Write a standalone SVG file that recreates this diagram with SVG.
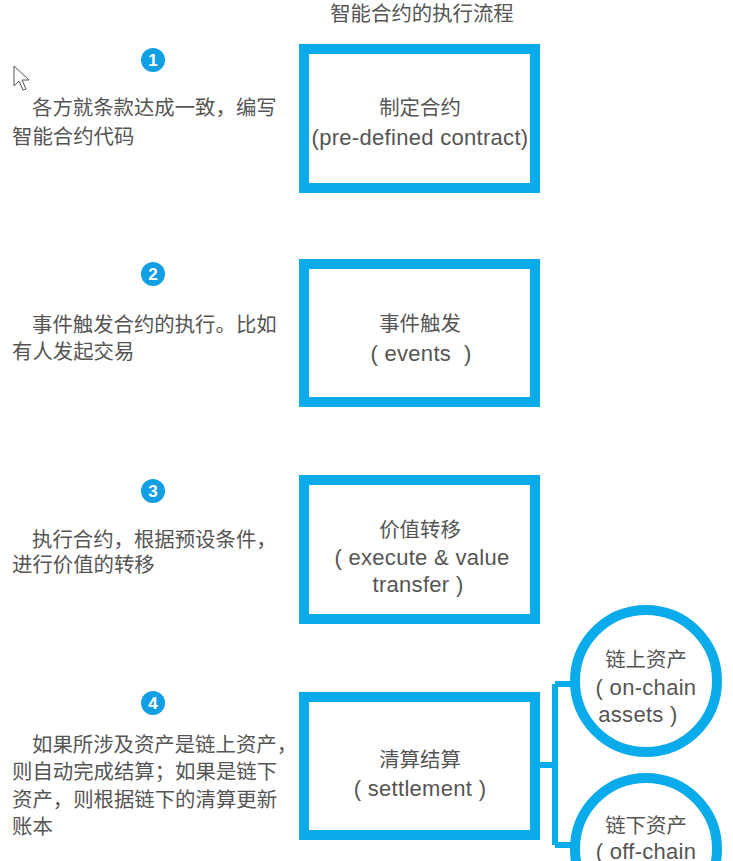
<svg xmlns="http://www.w3.org/2000/svg" width="733" height="861" viewBox="0 0 733 861">
<style>
.t{font-family:"Liberation Sans","Noto Sans CJK SC",sans-serif;fill:#555;font-size:20.4px}
.e{font-size:22px;letter-spacing:0.3px}
.c{text-anchor:middle}
.box{fill:#fff;stroke:#0aabea;stroke-width:10}
.ring{fill:#fff;stroke:#0aabea;stroke-width:10}
.num{fill:#129fe3}
.nt{font-family:"Liberation Sans",sans-serif;font-weight:bold;fill:#fff;font-size:17px;text-anchor:middle}
.wire{fill:none;stroke:#0aabea;stroke-width:6}
</style>
<rect width="733" height="861" fill="#fff"/>
<text class="t c" x="422" y="21">智能合约的执行流程</text>
<polygon points="14,66 14,86 19,81 23,90 26,89 22,80 29,80" fill="#fff" stroke="#555" stroke-width="1"/>

<g id="connectors">
<path class="wire" d="M540,765 H555 M555,684 V845 M555,684 H575 M555,845 H575"/>
</g>

<g id="step1">
<circle class="num" cx="153" cy="60" r="12"/><text class="nt" x="153" y="66">1</text>
<text class="t" x="32" y="115">各方就条款达成一致，编写</text>
<text class="t" x="12" y="144">智能合约代码</text>
</g>
<g id="node1">
<rect class="box" x="304" y="49" width="231" height="139"/>
<text class="t c" x="420" y="115">制定合约</text>
<text class="t e c" x="420" y="145">(pre-defined contract)</text>
</g>

<g id="step2">
<circle class="num" cx="153" cy="274" r="12"/><text class="nt" x="153" y="280">2</text>
<text class="t" x="32" y="332">事件触发合约的执行。比如</text>
<text class="t" x="12" y="359">有人发起交易</text>
</g>
<g id="node2">
<rect class="box" x="304" y="264" width="231" height="138"/>
<text class="t c" x="420" y="331">事件触发</text>
<text class="t e c" x="421" y="361" xml:space="preserve">( events  )</text>
</g>

<g id="step3">
<circle class="num" cx="153" cy="491" r="12"/><text class="nt" x="153" y="497">3</text>
<text class="t" x="32" y="547">执行合约，根据预设条件，</text>
<text class="t" x="12" y="572">进行价值的转移</text>
</g>
<g id="node3">
<rect class="box" x="304" y="480" width="231" height="139"/>
<text class="t c" x="420" y="537">价值转移</text>
<text class="t e c" x="422" y="565">( execute &amp; value</text>
<text class="t e c" x="418" y="592">transfer )</text>
</g>

<g id="step4">
<circle class="num" cx="153" cy="703" r="12"/><text class="nt" x="153" y="709">4</text>
<text class="t" x="32" y="752">如果所涉及资产是链上资产，</text>
<text class="t" x="12" y="779">则自动完成结算；如果是链下</text>
<text class="t" x="12" y="807">资产，则根据链下的清算更新</text>
<text class="t" x="12" y="834">账本</text>
</g>
<g id="node4">
<rect class="box" x="304" y="697" width="231" height="138"/>
<text class="t c" x="420" y="767">清算结算</text>
<text class="t e c" x="420" y="796">( settlement )</text>
</g>

<g id="onchain">
<circle class="ring" cx="646" cy="681" r="71"/>
<text class="t c" x="646" y="667">链上资产</text>
<text class="t e c" x="646" y="695">( on-chain</text>
<text class="t e c" x="638" y="722">assets )</text>
</g>
<g id="offchain">
<circle class="ring" cx="646" cy="849" r="71"/>
<text class="t c" x="646" y="833">链下资产</text>
<text class="t e c" x="646" y="859">( off-chain</text>
</g>
</svg>
